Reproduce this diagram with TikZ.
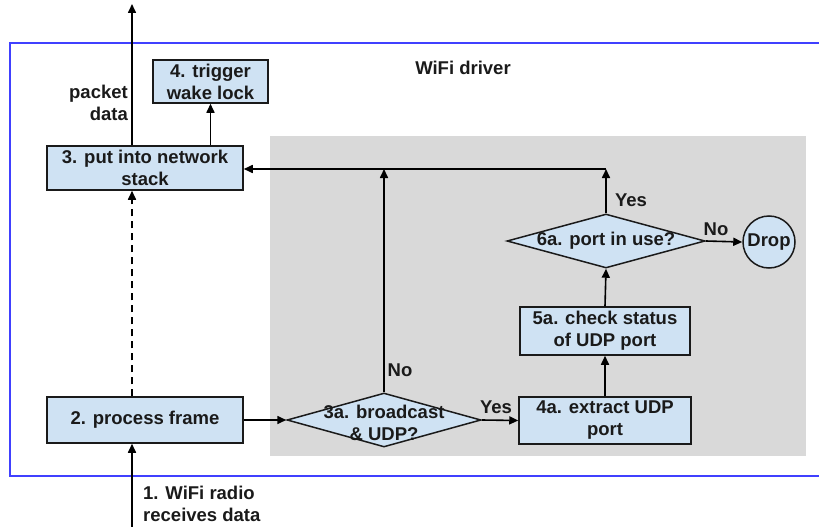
\documentclass[tikz,border=0pt]{standalone}
\usepackage{fontspec}
\setmainfont{Liberation Sans}
\usetikzlibrary{shapes.geometric,arrows.meta,calc}
\definecolor{boxfill}{HTML}{CFE2F3}
\definecolor{zonegray}{HTML}{D9D9D9}
\definecolor{framblue}{HTML}{4040FF}
\definecolor{inkdark}{HTML}{1A1A1A}
\begin{document}
\begin{tikzpicture}[x=1pt,y=-1pt,
  every node/.style={font=\fontsize{18.5}{22}\selectfont\bfseries, text=inkdark},
  stepbox/.style={draw=inkdark, line width=1.5pt, fill=boxfill, align=center, inner sep=0pt},
  decision/.style={diamond, draw=inkdark, line width=1.5pt, fill=boxfill, inner sep=0pt},
  flow/.style={draw=black, line width=1.6pt, -{Triangle[length=9pt,width=8pt]}},
  lbl/.style={inner sep=0pt}]
\useasboundingbox (0,0) rectangle (819,527);
\clip (0,0) rectangle (819,527);

% driver frame and the filtering zone
\draw[framblue, line width=2pt] (840,43) -- (10,43) -- (10,476) -- (840,476);
\fill[zonegray] (270,136) rectangle (806,456);
\node[lbl] (title) at (463,68) {WiFi driver};

% boxes
\node[stepbox, minimum width=196pt, minimum height=44pt] (b3) at (145,168) {3. put into network\\stack};
\node[stepbox, minimum width=196pt, minimum height=46pt] (b2) at (145,420) {2. process frame};
\node[stepbox, minimum width=115pt, minimum height=43pt] (b4) at (210.5,81.5) {4. trigger\\wake lock};
\node[stepbox, minimum width=172pt, minimum height=47pt] (b4a) at (605,420.5) {4a. extract UDP\\port};
\node[stepbox, minimum width=170pt, minimum height=48pt] (b5a) at (605,331) {5a. check status\\of UDP port};
\node[decision, minimum width=194pt, minimum height=54pt] (d3a) at (384,420) {};
\node[lbl, align=center] (t3a) at (384,422.5) {3a. broadcast\\\& UDP?};
\node[decision, minimum width=198pt, minimum height=54pt] (d6a) at (606,241) {};
\node[lbl] (t6a) at (606,241) {6a. port in use?};
\node[circle, draw=inkdark, line width=1.5pt, fill=boxfill, minimum size=52pt, inner sep=0pt] (drop) at (769,242) {Drop};

% free ends and junctions
\coordinate (out) at (132,4);
\coordinate (in) at (132,530);
\coordinate (jl) at (384,169);
\coordinate (jr) at (606,169);

% connectors
\draw[flow] (in) -- (b2.south -| in);
\draw[flow, dashed, dash pattern=on 7pt off 5pt] (b2.north -| in) -- (b3.south -| in);
\draw[flow] (b3.north -| out) -- (out);
\draw[flow] (b3.north -| b4) -- (b4.south);
\draw[flow] (b2.east) -- (d3a.west);
\draw[flow] (d3a.east) -- (b4a.west);
\draw[flow] (b4a.north) -- (b5a.south);
\draw[flow] (b5a.north) -- (d6a.south);
\draw[flow] (d6a.east) -- (drop.west);
\draw[flow] (d3a.north) -- (jl);
\draw[flow] (d6a.north) -- (jr);
\draw[flow] (jr) -- (b3.east |- jr);

% labels
\node[lbl, align=right, anchor=east] (pd) at (128,103) {packet\\data};
\node[lbl, align=left, anchor=west] (radio) at (143,504) {1. WiFi radio\\receives data};
\node[lbl] (yes3) at (496,407) {Yes};
\node[lbl] (no3) at (400,370) {No};
\node[lbl] (yes6) at (631,200) {Yes};
\node[lbl] (no6) at (716,229) {No};
\end{tikzpicture}
\end{document}
